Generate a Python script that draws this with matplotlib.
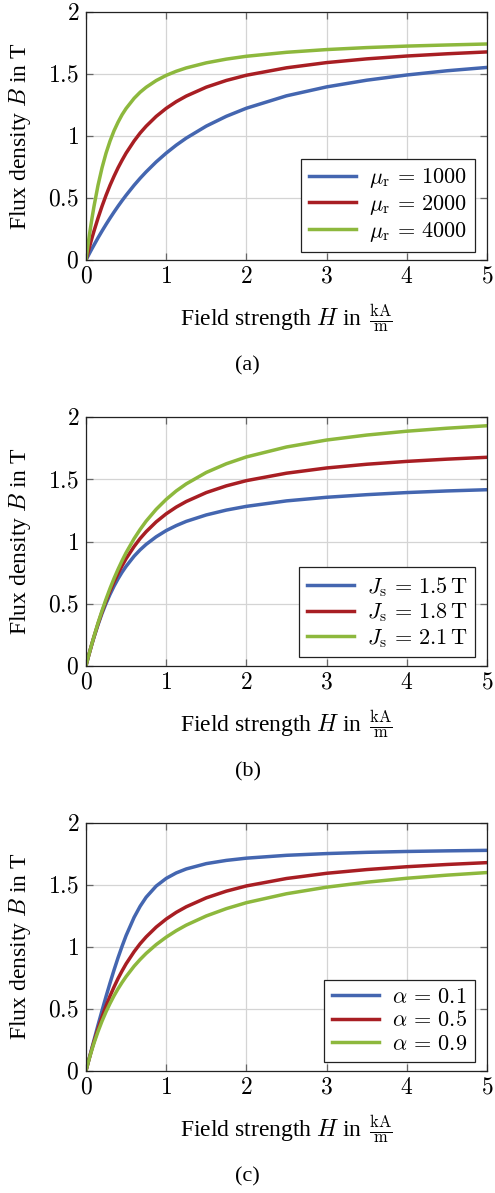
import matplotlib
matplotlib.use("Agg")
import matplotlib.pyplot as plt
from matplotlib.ticker import FuncFormatter

plt.rcParams["mathtext.fontset"] = "cm"
plt.rcParams["font.family"] = ["Liberation Serif", "DejaVu Serif"]

# Field strength H in kA/m
H = [0, 0.025, 0.05, 0.075, 0.1, 0.15, 0.2, 0.25, 0.3, 0.35, 0.4, 0.45, 0.5, 0.6, 0.675,
     0.75, 0.875, 1.0, 1.125, 1.25, 1.5, 1.75, 2.0, 2.5, 3.0, 3.5, 4.0, 4.5, 5.0]

# reference curve (mu_r = 2000, J_s = 1.8 T, alpha = 0.5), flux density B in T
B_ref = [0, 0.062, 0.121, 0.179, 0.234, 0.338, 0.434, 0.522, 0.603, 0.676, 0.744, 0.805,
         0.862, 0.960, 1.024, 1.079, 1.158, 1.223, 1.277, 1.322, 1.394, 1.448, 1.490, 1.550,
         1.592, 1.622, 1.645, 1.663, 1.678]
# (a) relative permeability
B_mu1000 = [0, 0.031, 0.062, 0.092, 0.121, 0.179, 0.234, 0.287, 0.338, 0.387, 0.434, 0.479,
            0.522, 0.603, 0.659, 0.711, 0.791, 0.862, 0.926, 0.983, 1.080, 1.159, 1.224, 1.324,
            1.396, 1.450, 1.492, 1.526, 1.553]
B_mu4000 = [0, 0.121, 0.234, 0.338, 0.434, 0.603, 0.744, 0.862, 0.960, 1.043, 1.112, 1.172,
            1.222, 1.304, 1.353, 1.393, 1.447, 1.489, 1.522, 1.549, 1.590, 1.620, 1.643, 1.675,
            1.697, 1.713, 1.725, 1.734, 1.742]
# (b) saturation polarisation
B_Js15 = [0, 0.062, 0.120, 0.177, 0.230, 0.330, 0.421, 0.502, 0.575, 0.641, 0.700, 0.753,
          0.800, 0.882, 0.933, 0.977, 1.038, 1.088, 1.128, 1.162, 1.214, 1.253, 1.283, 1.327,
          1.356, 1.377, 1.394, 1.407, 1.417]
B_Js21 = [0, 0.062, 0.122, 0.180, 0.236, 0.344, 0.443, 0.536, 0.623, 0.703, 0.777, 0.846,
          0.910, 1.023, 1.097, 1.164, 1.259, 1.339, 1.407, 1.464, 1.556, 1.626, 1.681, 1.761,
          1.817, 1.857, 1.888, 1.912, 1.932]
# (c) knee parameter
B_a01 = [0, 0.063, 0.125, 0.186, 0.247, 0.368, 0.485, 0.599, 0.708, 0.813, 0.912, 1.004,
         1.090, 1.237, 1.326, 1.399, 1.489, 1.551, 1.595, 1.627, 1.670, 1.696, 1.714, 1.737,
         1.751, 1.761, 1.768, 1.773, 1.777]
B_a09 = [0, 0.061, 0.118, 0.172, 0.223, 0.316, 0.400, 0.475, 0.543, 0.605, 0.661, 0.712,
         0.759, 0.843, 0.897, 0.946, 1.017, 1.077, 1.129, 1.174, 1.248, 1.307, 1.355, 1.427,
         1.480, 1.520, 1.552, 1.577, 1.598]

labels_a = [r"$\mu_\mathrm{r}\,=\,1000$", r"$\mu_\mathrm{r}\,=\,2000$", r"$\mu_\mathrm{r}\,=\,4000$"]
labels_b = [r"$J_\mathrm{s}\,=\,1.5\,\mathrm{T}$", r"$J_\mathrm{s}\,=\,1.8\,\mathrm{T}$",
            r"$J_\mathrm{s}\,=\,2.1\,\mathrm{T}$"]
labels_c = [r"$\alpha\,=\,0.1$", r"$\alpha\,=\,0.5$", r"$\alpha\,=\,0.9$"]
captions = ["(a)", "(b)", "(c)"]
x_ticks = [0, 1, 2, 3, 4, 5]
y_ticks = [0, 0.5, 1, 1.5, 2]

colors = ["#4466B0", "#A81E23", "#8DB83D"]

W, Hpx = 495, 1193
fig = plt.figure(figsize=(W / 100, Hpx / 100), dpi=100)

panels = [
    (12, 260, [B_mu1000, B_ref, B_mu4000], labels_a),
    (417.3, 665.7, [B_Js15, B_ref, B_Js21], labels_b),
    (822.7, 1070.7, [B_a01, B_ref, B_a09], labels_c),
]
left_px, right_px = 86, 487

fmt = FuncFormatter(lambda v, p: f"${v:g}$")

for i, (top, bot, series, labs) in enumerate(panels):
    ax = fig.add_axes([left_px / W, 1 - bot / Hpx, (right_px - left_px) / W, (bot - top) / Hpx])
    for ys, c, lab in zip(series, colors, labs):
        ax.plot(H, ys, color=c, lw=2.5, label=lab, solid_joinstyle="round")
    ax.set_xlim(0, 5)
    ax.set_ylim(0, 2)
    ax.set_xticks(x_ticks)
    ax.set_yticks(y_ticks)
    ax.xaxis.set_major_formatter(fmt)
    ax.yaxis.set_major_formatter(fmt)
    ax.grid(True, color="#d4d4d4", lw=0.9)
    ax.set_axisbelow(True)
    ax.tick_params(direction="in", top=True, right=True, length=5, width=0.9,
                   color="#666666", labelsize=17, pad=5)
    for s in ax.spines.values():
        s.set_color("#222222")
        s.set_linewidth(0.9)
    ax.set_xlabel(r"Field strength $H$ in $\,\frac{\mathrm{kA}}{\mathrm{m}}$", fontsize=17, va="center")
    ax.xaxis.set_label_coords(0.5, -58 / (bot - top))
    ax.set_ylabel(r"Flux density $B$ in T", fontsize=17, va="center")
    ax.yaxis.set_label_coords(-66 / (right_px - left_px), 0.5)
    leg = ax.legend(loc="lower right", bbox_to_anchor=(1 - 12 / 401, 8.4 / 248),
                    borderaxespad=0, fontsize=16, fancybox=False, framealpha=1,
                    edgecolor="#222222", handlelength=2.1, handletextpad=0.6,
                    labelspacing=0.12, borderpad=0.35)
    leg.get_frame().set_linewidth(0.9)
    fig.text(0.5, 1 - (bot + 106) / Hpx, captions[i], ha="center", va="center", fontsize=16)

fig.savefig("out.png", dpi=100)
